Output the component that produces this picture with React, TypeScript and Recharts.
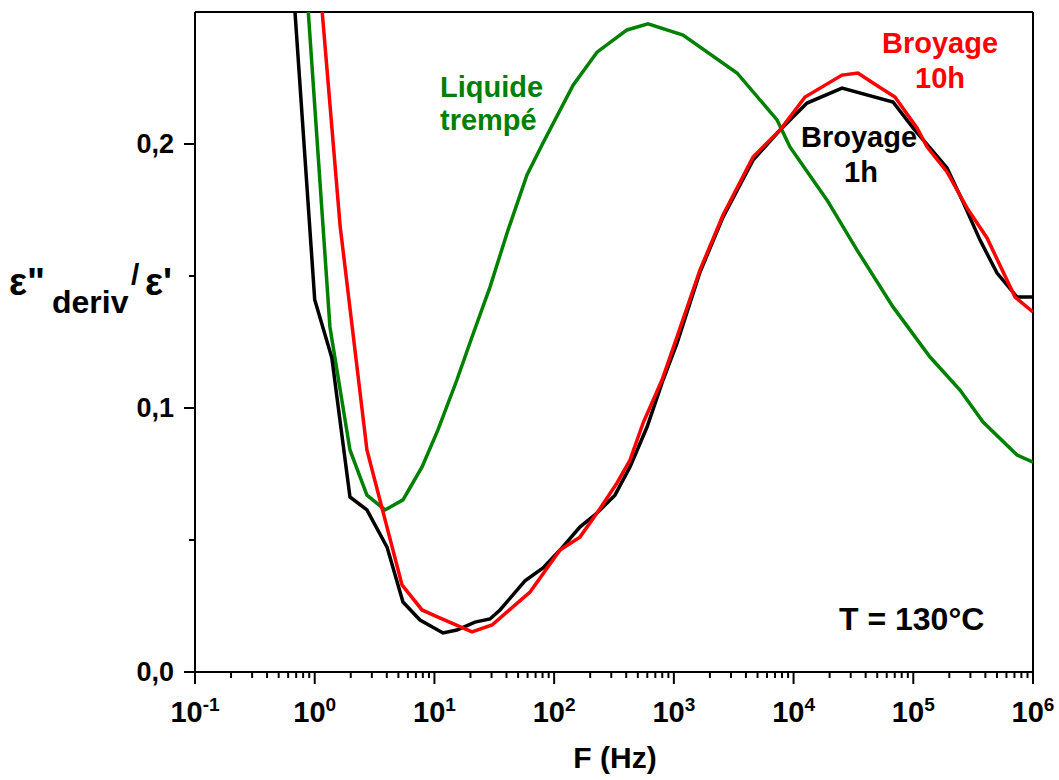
import React from "react";
import { LineChart, Line, XAxis, YAxis, ReferenceLine } from "recharts";

// Broyage 1h (black)
const broyage1hF = [0.645, 1.0, 1.39, 1.97, 2.73, 4.02, 5.46, 7.58, 11.8, 15.4, 21.8, 29.1, 35.3, 57.1, 80.7, 112, 164, 228, 322, 430, 597, 812, 1063, 1654, 2575, 4585, 7705, 12950, 25400, 67700, 99500, 191400, 260400, 361000, 500900, 736000, 1000000];
const broyage1hV = [0.267, 0.141, 0.119, 0.0663, 0.0614, 0.0473, 0.0265, 0.0197, 0.0148, 0.0159, 0.0189, 0.0201, 0.0235, 0.0345, 0.0394, 0.0462, 0.0549, 0.0602, 0.067, 0.0777, 0.0928, 0.1106, 0.1246, 0.1515, 0.1723, 0.1939, 0.2053, 0.2155, 0.2212, 0.2159, 0.2061, 0.1909, 0.178, 0.1636, 0.1511, 0.142, 0.142];

// Broyage 10h (red)
const broyage10hF = [1.07, 1.63, 2.73, 5.36, 7.88, 10.7, 20.6, 30.3, 62.9, 112, 164, 228, 335, 430, 553, 796, 1063, 1654, 2575, 4585, 7705, 12470, 25400, 34500, 46100, 70300, 107400, 130300, 191400, 281000, 413000, 708000, 1000000];
const broyage10hV = [0.268, 0.169, 0.0841, 0.033, 0.0235, 0.0208, 0.0152, 0.0178, 0.0303, 0.0462, 0.0511, 0.0602, 0.0716, 0.0803, 0.0943, 0.1106, 0.127, 0.1523, 0.1731, 0.1951, 0.2053, 0.2178, 0.2261, 0.2269, 0.2231, 0.2178, 0.2061, 0.1989, 0.1894, 0.1758, 0.1644, 0.142, 0.1364];

// Liquide trempé (green)
const liquideF = [0.83, 1.34, 1.97, 2.73, 3.87, 5.46, 7.88, 10.7, 15.4, 20.6, 29.1, 41.2, 59.3, 80.7, 144, 228, 406, 608, 1193, 3370, 7280, 9330, 19000, 33900, 67700, 138000, 245600, 382600, 736000, 1000000];
const liquideV = [0.268, 0.1307, 0.0841, 0.067, 0.0614, 0.0652, 0.0777, 0.0917, 0.1106, 0.1269, 0.1458, 0.1674, 0.1883, 0.2004, 0.2223, 0.2348, 0.2432, 0.2455, 0.2413, 0.2269, 0.2091, 0.1989, 0.1788, 0.1598, 0.1383, 0.1193, 0.1068, 0.0947, 0.0822, 0.0795];

const xMajorExp = [-1, 0, 1, 2, 3, 4, 5, 6];
const xMinorMult = [2, 3, 4, 5, 6, 7, 8, 9];
const yTicks = [0, 0.05, 0.1, 0.15, 0.2];
const yLabels: Record<string, string> = { "0": "0,0", "0.1": "0,1", "0.2": "0,2" };

const toRows = (f: number[], v: number[]) => f.map((x, i) => ({ f: x, v: v[i] }));
const black = toRows(broyage1hF, broyage1hV);
const red = toRows(broyage10hF, broyage10hV);
const green = toRows(liquideF, liquideV);

const xTicks: number[] = [];
xMajorExp.forEach((e) => {
  xTicks.push(Math.pow(10, e));
  if (e < 6) xMinorMult.forEach((m) => xTicks.push(m * Math.pow(10, e)));
});

const FONT = "Arial, 'Liberation Sans', sans-serif";

function XTick(props: any) {
  const { x, y, payload } = props;
  const lg = Math.log10(payload.value);
  const e = Math.round(lg);
  const major = Math.abs(lg - e) < 1e-6;
  return (
    <g>
      <line x1={x} x2={x} y1={y} y2={y + (major ? 12 : 6)} stroke="#000" strokeWidth={2} />
      {major && (
        <text x={x} y={y + 50} textAnchor="middle" fontFamily={FONT} fontWeight="bold" fontSize={29} fill="#000">
          10
          <tspan fontSize={19} dy={-11}>{e}</tspan>
        </text>
      )}
    </g>
  );
}

function YTick(props: any) {
  const { x, y, payload } = props;
  const label = yLabels[String(payload.value)];
  return (
    <g>
      <line x1={x - (label ? 11 : 6)} x2={x} y1={y} y2={y} stroke="#000" strokeWidth={2} />
      {label && (
        <text x={x - 21} y={y + 9} textAnchor="end" fontFamily={FONT} fontWeight="bold" fontSize={27} fill="#000">
          {label}
        </text>
      )}
    </g>
  );
}

export default function App() {
  const t = { fontFamily: FONT, fontWeight: "bold" as const };
  return (
    <div style={{ position: "absolute", left: 0, top: 0, width: 1059, height: 780, background: "#fff" }}>
      <LineChart width={1059} height={780} margin={{ top: 12, right: 26, bottom: 0, left: 0 }}>
        <XAxis
          type="number"
          dataKey="f"
          scale="log"
          domain={[0.1, 1e6]}
          ticks={xTicks}
          interval={0}
          allowDataOverflow
          height={108}
          tickSize={0}
          tickMargin={0}
          tickLine={false}
          tick={<XTick />}
          axisLine={{ stroke: "#000", strokeWidth: 2 }}
        />
        <YAxis
          type="number"
          dataKey="v"
          domain={[0, 0.25]}
          ticks={yTicks}
          interval={0}
          allowDataOverflow
          width={195}
          tickSize={0}
          tickMargin={0}
          tickLine={false}
          tick={<YTick />}
          axisLine={{ stroke: "#000", strokeWidth: 2 }}
        />
        <ReferenceLine y={0.25} stroke="#000" strokeWidth={2} />
        <ReferenceLine x={1e6} stroke="#000" strokeWidth={2} />
        <Line data={green} dataKey="v" type="linear" stroke="#008000" strokeWidth={3.5} dot={false} isAnimationActive={false} />
        <Line data={black} dataKey="v" type="linear" stroke="#000000" strokeWidth={3.5} dot={false} isAnimationActive={false} />
        <Line data={red} dataKey="v" type="linear" stroke="#ff0000" strokeWidth={3.5} dot={false} isAnimationActive={false} />
      </LineChart>
      <svg width={1059} height={780} style={{ position: "absolute", left: 0, top: 0, pointerEvents: "none" }}>
        <text {...t} fontSize={29} fill="#008000">
          <tspan x={440} y={97}>Liquide</tspan>
          <tspan x={440} y={130}>trempé</tspan>
        </text>
        <text {...t} fontSize={29} fill="#ff0000" textAnchor="middle">
          <tspan x={940} y={53}>Broyage</tspan>
          <tspan x={940} y={88}>10h</tspan>
        </text>
        <text {...t} fontSize={29} fill="#000" textAnchor="middle">
          <tspan x={859} y={147}>Broyage</tspan>
          <tspan x={861} y={182}>1h</tspan>
        </text>
        <text {...t} fontSize={32} fill="#000" x={839} y={630}>T = 130°C</text>
        <text {...t} fontSize={30} fill="#000" x={615} y={768} textAnchor="middle">F (Hz)</text>
        <text {...t} fill="#000">
          <tspan x={9} y={295} fontSize={38}>ε"</tspan>
          <tspan x={52} y={313} fontSize={32}>deriv</tspan>
          <tspan x={131} y={285} fontSize={30}>/</tspan>
          <tspan x={145} y={295} fontSize={38}>ε'</tspan>
        </text>
      </svg>
    </div>
  );
}
